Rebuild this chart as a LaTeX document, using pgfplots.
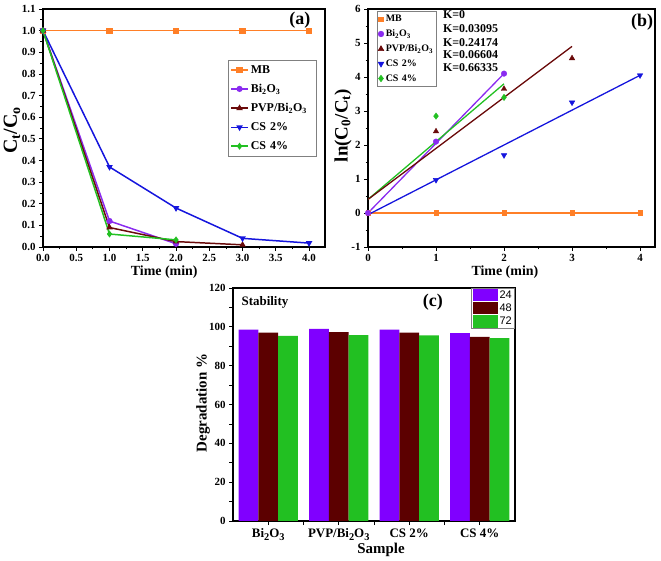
\documentclass[border=0pt]{standalone}
\usepackage{fontspec}
\setmainfont{Liberation Serif}
\newfontfamily\arialf{Liberation Sans}
\usepackage{graphicx}
\usepackage{pgfplots}
\pgfplotsset{compat=1.18}

\definecolor{cMB}{HTML}{FF7F27}
\definecolor{cBi}{HTML}{8A2BF0}
\definecolor{cPVP}{HTML}{6A0A0A}
\definecolor{cCS2}{HTML}{1515DD}
\definecolor{cCS4}{HTML}{22C022}
\definecolor{bP}{HTML}{8000FF}
\definecolor{bM}{HTML}{5C0000}
\definecolor{bG}{HTML}{22C022}

\newcommand{\fs}[1]{\fontsize{#1}{#1}\selectfont}
\newcommand{\bsub}[1]{\raisebox{-0.45ex}{\scalebox{0.8}{#1}}}

\pgfplotsset{
  myax/.style={
    scale only axis,
    axis line style={line width=1.2pt},
    every tick/.style={black, line width=0.8pt},
    major tick length=4bp, minor tick length=2.5bp,
    tick align=outside, xtick pos=left, ytick pos=left,
    tick label style={font=\fs{11}\bfseries},
    /pgf/number format/assume math mode=true,
    label style={font=\fs{14}\bfseries},
  }
}

\begin{document}
\begin{tikzpicture}
\useasboundingbox (0,0) rectangle (661bp,561bp);

% ---------------- (a) ----------------
\begin{axis}[myax,
  at={(43bp,314bp)}, anchor=south west,
  width=282bp, height=238bp,
  xmin=0, xmax=4.24, ymin=0, ymax=1.1,
  xtick={0,0.5,...,4.0}, minor x tick num=1,
  ytick={0,0.1,...,1.1}, minor y tick num=1,
  xticklabel style={/pgf/number format/.cd,fixed,fixed zerofill,precision=1},
  yticklabel style={/pgf/number format/.cd,fixed,fixed zerofill,precision=1},
  xlabel={Time (min)},
  ylabel={C\textsubscript{t}/C\textsubscript{o}},
  xlabel style={at={(axis description cs:0.43,-0.105)}, anchor=center},
  ylabel style={at={(axis description cs:-0.11,0.49)}, anchor=center, font=\fs{20}\bfseries},
  legend style={at={(0.656,0.786)}, anchor=north west, font=\fs{12}\bfseries,
    draw=gray, line width=0.6pt, inner xsep=2bp, inner ysep=3bp, row sep=5.5bp,
    text width=62bp},
  legend cell align=left,
  every axis plot/.append style={line width=1.5pt, mark size=2.3bp},
]
\addplot[cMB, mark=square*] coordinates {(0,1) (1,1) (2,1) (3,1) (4,1)};
\addlegendentry{MB}
\addplot[cBi, mark=*] coordinates {(0,1) (1,0.12) (2,0.015)};
\addlegendentry{Bi\textsubscript{2}O\textsubscript{3}}
\addplot[cPVP, mark=triangle*] coordinates {(0,1) (1,0.09) (2,0.025) (3,0.01)};
\addlegendentry{PVP/Bi\textsubscript{2}O\textsubscript{3}}
\addplot[cCS2, mark=triangle*, mark options={rotate=180}] coordinates {(0,1) (1,0.37) (2,0.18) (3,0.04) (4,0.018)};
\addlegendentry{CS 2\%}
\addplot[cCS4, mark=diamond*] coordinates {(0,1) (1,0.06) (2,0.033)};
\addlegendentry{CS 4\%}
\node[font=\fs{18}\bfseries] at (axis description cs:0.911,0.954) {(a)};
\end{axis}

% ---------------- (b) ----------------
\begin{axis}[myax,
  at={(368bp,314bp)}, anchor=south west,
  width=287bp, height=238bp,
  xmin=0, xmax=4.22, ymin=-1, ymax=6,
  xtick={0,1,2,3,4}, minor x tick num=1,
  ytick={-1,0,...,6}, minor y tick num=1,
  xlabel={Time (min)},
  ylabel={ln(C\textsubscript{0}/C\textsubscript{t})},
  xlabel style={at={(axis description cs:0.477,-0.105)}, anchor=center},
  ylabel style={at={(axis description cs:-0.087,0.51)}, anchor=center, font=\fs{19}\bfseries},
  legend style={at={(0.031,0.99)}, anchor=north west, font=\fs{10}\bfseries,
    draw=gray, line width=0.6pt, inner xsep=1bp, inner ysep=1.5bp, row sep=2.6bp,
    text width=48bp},
  legend cell align=left,
  every axis plot/.append style={mark size=2.8bp},
]
% fitted lines
\addplot[cMB, line width=1.3pt, forget plot] coordinates {(0,0) (4,0)};
\addplot[cBi, line width=1.3pt, forget plot] coordinates {(0,0) (2,4.1)};
\addplot[cCS4, line width=1.3pt, forget plot] coordinates {(0,0.4) (2,3.8)};
\addplot[cPVP, line width=1.3pt, forget plot] coordinates {(0,0.4) (3,4.9)};
\addplot[cCS2, line width=1.3pt, forget plot] coordinates {(0,-0.05) (4,4.05)};
% data points
\addplot[cMB, only marks, mark=square*, mark size=2.3bp] coordinates {(0,0) (1,0) (2,0) (3,0) (4,0)};
\addlegendentry{MB}
\addplot[cBi, only marks, mark=*] coordinates {(0,0) (1,2.1) (2,4.1)};
\addlegendentry{Bi\textsubscript{2}O\textsubscript{3}}
\addplot[cPVP, only marks, mark=triangle*, mark size=3.2bp] coordinates {(1,2.4) (2,3.65) (3,4.55)};
\addlegendentry{PVP/Bi\textsubscript{2}O\textsubscript{3}}
\addplot[cCS2, only marks, mark=triangle*, mark size=3.2bp, mark options={rotate=180}] coordinates {(1,0.97) (2,1.7) (3,3.25) (4,4.05)};
\addlegendentry{CS 2\%}
\addplot[cCS4, only marks, mark=diamond*, mark size=3.2bp] coordinates {(1,2.85) (2,3.4)};
\addlegendentry{CS 4\%}
\node[font=\fs{18}\bfseries] at (axis description cs:0.955,0.945) {(b)};
\begin{scope}[every node/.style={font=\fs{12}\bfseries, anchor=west, inner sep=0pt}]
\node at (axis description cs:0.261,0.975) {K=0};
\node at (axis description cs:0.261,0.916) {K=0.03095};
\node at (axis description cs:0.261,0.859) {K=0.24174};
\node at (axis description cs:0.261,0.807) {K=0.06604};
\node at (axis description cs:0.261,0.752) {K=0.66335};
\end{scope}
\end{axis}

% ---------------- (c) ----------------
\begin{axis}[myax,
  at={(233bp,40bp)}, anchor=south west,
  width=282bp, height=233bp,
  ybar=0pt, bar width=0.28,
  xmin=0.5, xmax=4.5, ymin=0, ymax=120,
  xtick={1,2,3,4},
  xticklabels={Bi\bsub{2}O\bsub{3}, PVP/Bi\bsub{2}O\bsub{3}, CS 2\%, CS 4\%},
  minor xtick={1.5,2.5,3.5},
  minor tick length=4bp,
  xticklabel style={font=\fs{13}\bfseries},
  ytick={0,20,...,120}, minor y tick num=1,
  yticklabel style={font=\fs{11}\bfseries},
  xlabel={Sample},
  ylabel={Degradation \%},
  xlabel style={at={(axis description cs:0.525,-0.124)}, anchor=center, font=\fs{15}\bfseries},
  ylabel style={at={(axis description cs:-0.106,0.506)}, anchor=center, font=\fs{15}\bfseries},
  legend style={at={(1,1)}, anchor=north east, font=\fs{11}\arialf,
    draw=gray, line width=0.6pt, inner xsep=1bp, inner ysep=0.5bp, row sep=0bp},
  legend image code/.code={\fill[#1] (0bp,-6bp) rectangle (25bp,6.5bp);},
  legend cell align=left,
]
\addplot[fill=bP, draw=none] coordinates {(1,98.5) (2,99.0) (3,98.5) (4,96.8)};
\addlegendentry{24}
\addplot[fill=bM, draw=none] coordinates {(1,97.0) (2,97.3) (3,97.0) (4,94.8)};
\addlegendentry{48}
\addplot[fill=bG, draw=none] coordinates {(1,95.3) (2,95.7) (3,95.6) (4,94.2)};
\addlegendentry{72}
\node[font=\fs{13}\bfseries, anchor=west] at (axis description cs:0.018,0.94) {Stability};
\node[font=\fs{18}\bfseries] at (axis description cs:0.709,0.94) {(c)};
\end{axis}
\end{tikzpicture}
\end{document}
